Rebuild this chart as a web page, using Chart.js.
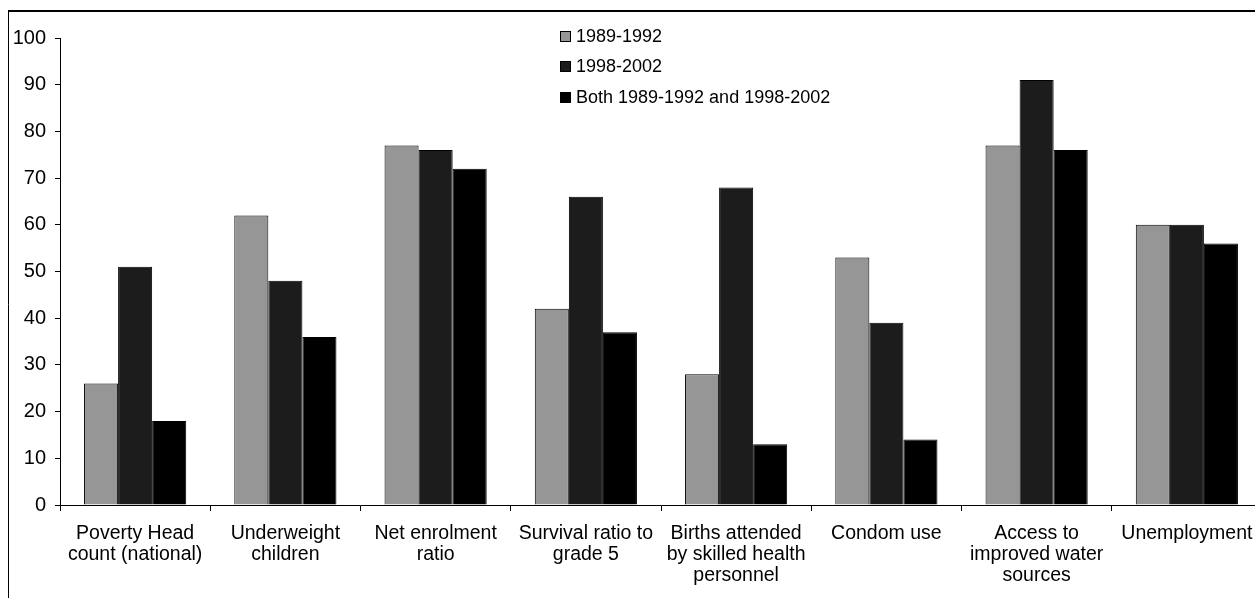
<!DOCTYPE html>
<html>
<head>
<meta charset="utf-8">
<script src="https://cdn.jsdelivr.net/npm/chart.js@4.4.1/dist/chart.umd.min.js"></script>
<style>
  html, body { margin: 0; padding: 0; background: #fff; overflow: hidden; }
  #wrap { width: 1255px; height: 598px; overflow: hidden; position: relative; }
  canvas { display: block; }
</style>
</head>
<body>
<div id="wrap"><canvas id="c" width="1270" height="598"></canvas></div>
<script>
// Indicator categories (multi-line tick labels)
const categories = [
  ["Poverty Head", "count (national)"],
  ["Underweight", "children"],
  ["Net enrolment", "ratio"],
  ["Survival ratio to", "grade 5"],
  ["Births attended", "by skilled health", "personnel"],
  ["Condom use"],
  ["Access to", "improved water", "sources"],
  ["Unemployment"]
];

const seriesNames = ["1989-1992", "1998-2002", "Both 1989-1992 and 1998-2002"];
const period1 = [26, 62, 77, 42, 28, 53, 77, 60];
const period2 = [51, 48, 76, 66, 68, 39, 91, 60];
const bothPeriods = [18, 36, 72, 37, 13, 14, 76, 56];
const seriesColors = ["#969696", "#1c1c1c", "#000000"];

const yMin = 0, yMax = 100, yStep = 10;

const FONT = "'Liberation Sans', Arial, sans-serif";

// Outer frame (left and top edges) behind everything
const framePlugin = {
  id: 'frame',
  beforeDraw(chart) {
    const ctx = chart.ctx;
    ctx.save();
    ctx.strokeStyle = '#000';
    ctx.lineWidth = 1;
    ctx.beginPath();
    ctx.moveTo(8.5, 10);
    ctx.lineTo(8.5, chart.height + 5);
    ctx.stroke();
    ctx.lineWidth = 2;
    ctx.beginPath();
    ctx.moveTo(8, 11);
    ctx.lineTo(chart.width + 5, 11);
    ctx.stroke();
    ctx.restore();
  }
};

// Vertical legend drawn inside the plot area
const legendPlugin = {
  id: 'insideLegend',
  afterDraw(chart) {
    const ctx = chart.ctx;
    const x0 = 560, y0 = 36, rowH = 30.5, box = 11;
    ctx.save();
    ctx.font = "18px " + FONT;
    ctx.textBaseline = 'middle';
    ctx.textAlign = 'left';
    chart.data.datasets.forEach((ds, i) => {
      const cy = y0 + i * rowH;
      ctx.fillStyle = ds.backgroundColor;
      ctx.fillRect(x0, Math.round(cy - box / 2), box, box);
      ctx.strokeStyle = '#000';
      ctx.lineWidth = 1;
      ctx.strokeRect(x0 + 0.5, Math.round(cy - box / 2) + 0.5, box - 1, box - 1);
      ctx.fillStyle = '#000';
      ctx.fillText(ds.label, x0 + box + 5, cy + 1);
    });
    ctx.restore();
  }
};

const datasets = [period1, period2, bothPeriods].map((vals, i) => ({
  label: seriesNames[i],
  data: vals,
  backgroundColor: seriesColors[i],
  borderColor: '#000',
  borderWidth: 1,
  categoryPercentage: 0.68,
  barPercentage: 1.0
}));

new Chart(document.getElementById('c'), {
  type: 'bar',
  data: { labels: categories, datasets },
  plugins: [framePlugin, legendPlugin],
  options: {
    responsive: false,
    animation: false,
    devicePixelRatio: 1,
    layout: { padding: { top: 38, right: 8, left: 0, bottom: 0 } },
    plugins: {
      legend: { display: false },
      tooltip: { enabled: false },
      title: { display: false }
    },
    scales: {
      x: {
        grid: {
          display: true,
          drawOnChartArea: false,
          drawTicks: true,
          tickLength: 6,
          color: '#000',
          offset: true
        },
        border: { display: true, color: '#000', width: 1 },
        ticks: {
          color: '#000',
          font: { family: FONT, size: 19.5, lineHeight: 1.08 },
          padding: 12,
          autoSkip: false,
          maxRotation: 0,
          minRotation: 0
        },
        afterFit(scale) { scale.height = 93; }
      },
      y: {
        min: yMin,
        max: yMax,
        grid: {
          display: true,
          drawOnChartArea: false,
          drawTicks: true,
          tickLength: 5,
          color: '#000'
        },
        border: { display: true, color: '#000', width: 1 },
        ticks: {
          stepSize: yStep,
          color: '#000',
          font: { family: FONT, size: 20 },
          padding: 9
        },
        afterFit(scale) { scale.width = 60; }
      }
    }
  }
});
</script>
</body>
</html>
